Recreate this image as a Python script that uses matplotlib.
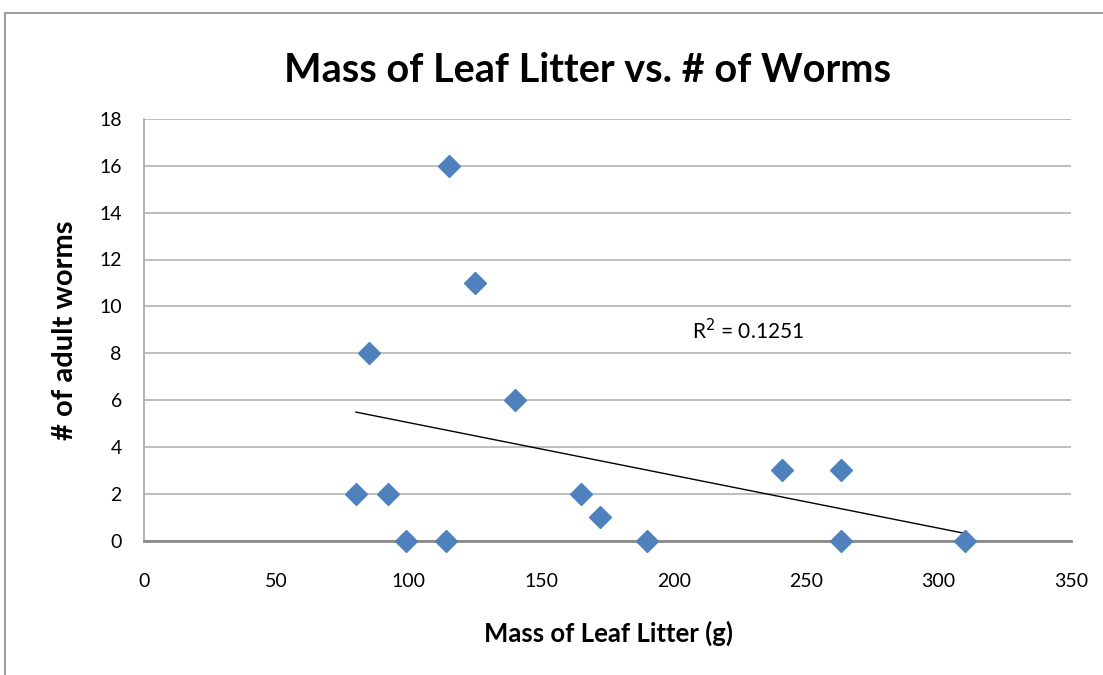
# 散点图 + 线性趋势线
import matplotlib
matplotlib.use('Agg')
import matplotlib.pyplot as plt
from matplotlib.patches import Rectangle
import numpy as np

plt.rcParams['font.family'] = ['Lato', 'DejaVu Sans']

# 数据
leaf_mass = [80, 85, 92, 99, 114, 115, 125, 140, 165, 172, 190, 241, 263, 263, 310]
worms = [2, 8, 2, 0, 0, 16, 11, 6, 2, 1, 0, 3, 3, 0, 0]
r2_label = 'R$^2$ = 0.1251'

fig = plt.figure(figsize=(11.03, 6.75), dpi=100)
ax = fig.add_axes([144 / 1103, 1 - 540.5 / 675, (1071 - 144) / 1103, (540.5 - 119) / 675])

# 外框 (只看得到左边和上边)
fig.patches.append(Rectangle((5 / 1103, -0.1), 1.2, 1 - 13 / 675 + 0.1,
                             transform=fig.transFigure, fill=False,
                             edgecolor='#8c8c8c', linewidth=1.2))

# 网格
ax.set_xlim(0, 350)
ax.set_ylim(0, 18)
ax.set_xticks(np.arange(0, 351, 50))
ax.set_yticks(np.arange(0, 19, 2))
ax.yaxis.grid(True, color='#b3b3b3', linewidth=1.2)
ax.set_axisbelow(True)
ax.tick_params(length=0, labelsize=14)
ax.tick_params(axis='y', pad=16)
ax.tick_params(axis='x', pad=23.5)
for side in ['top', 'right']:
    ax.spines[side].set_visible(False)
ax.spines['left'].set_color('#a6a6a6')
ax.spines['left'].set_linewidth(1.2)
ax.spines['bottom'].set_color('#8a8a8a')
ax.spines['bottom'].set_linewidth(2)

# 点
ax.plot(leaf_mass, worms, linestyle='none', marker='D', markersize=11,
        color='#4f81bd', zorder=4, clip_on=False)

# 趋势线
k, b = np.polyfit(leaf_mass, worms, 1)
xs = np.array([min(leaf_mass), max(leaf_mass)])
ax.plot(xs, k * xs + b, color='black', linewidth=1, zorder=3)
ax.text(207, 8.95, r2_label, fontsize=15, va='center', ha='left')

# 标题和坐标轴名称
fig.text(587 / 1103, 1 - 70 / 675, 'Mass of Leaf Litter vs. # of Worms',
         fontsize=28.5, fontweight='bold', ha='center', va='center')
fig.text(608 / 1103, 1 - 633 / 675, 'Mass of Leaf Litter (g)',
         fontsize=18.5, fontweight='bold', ha='center', va='center')
fig.text(65 / 1103, 1 - 330 / 675, '# of adult worms', rotation=90,
         fontsize=21, fontweight='bold', ha='center', va='center')

fig.savefig('out.png', dpi=100)
